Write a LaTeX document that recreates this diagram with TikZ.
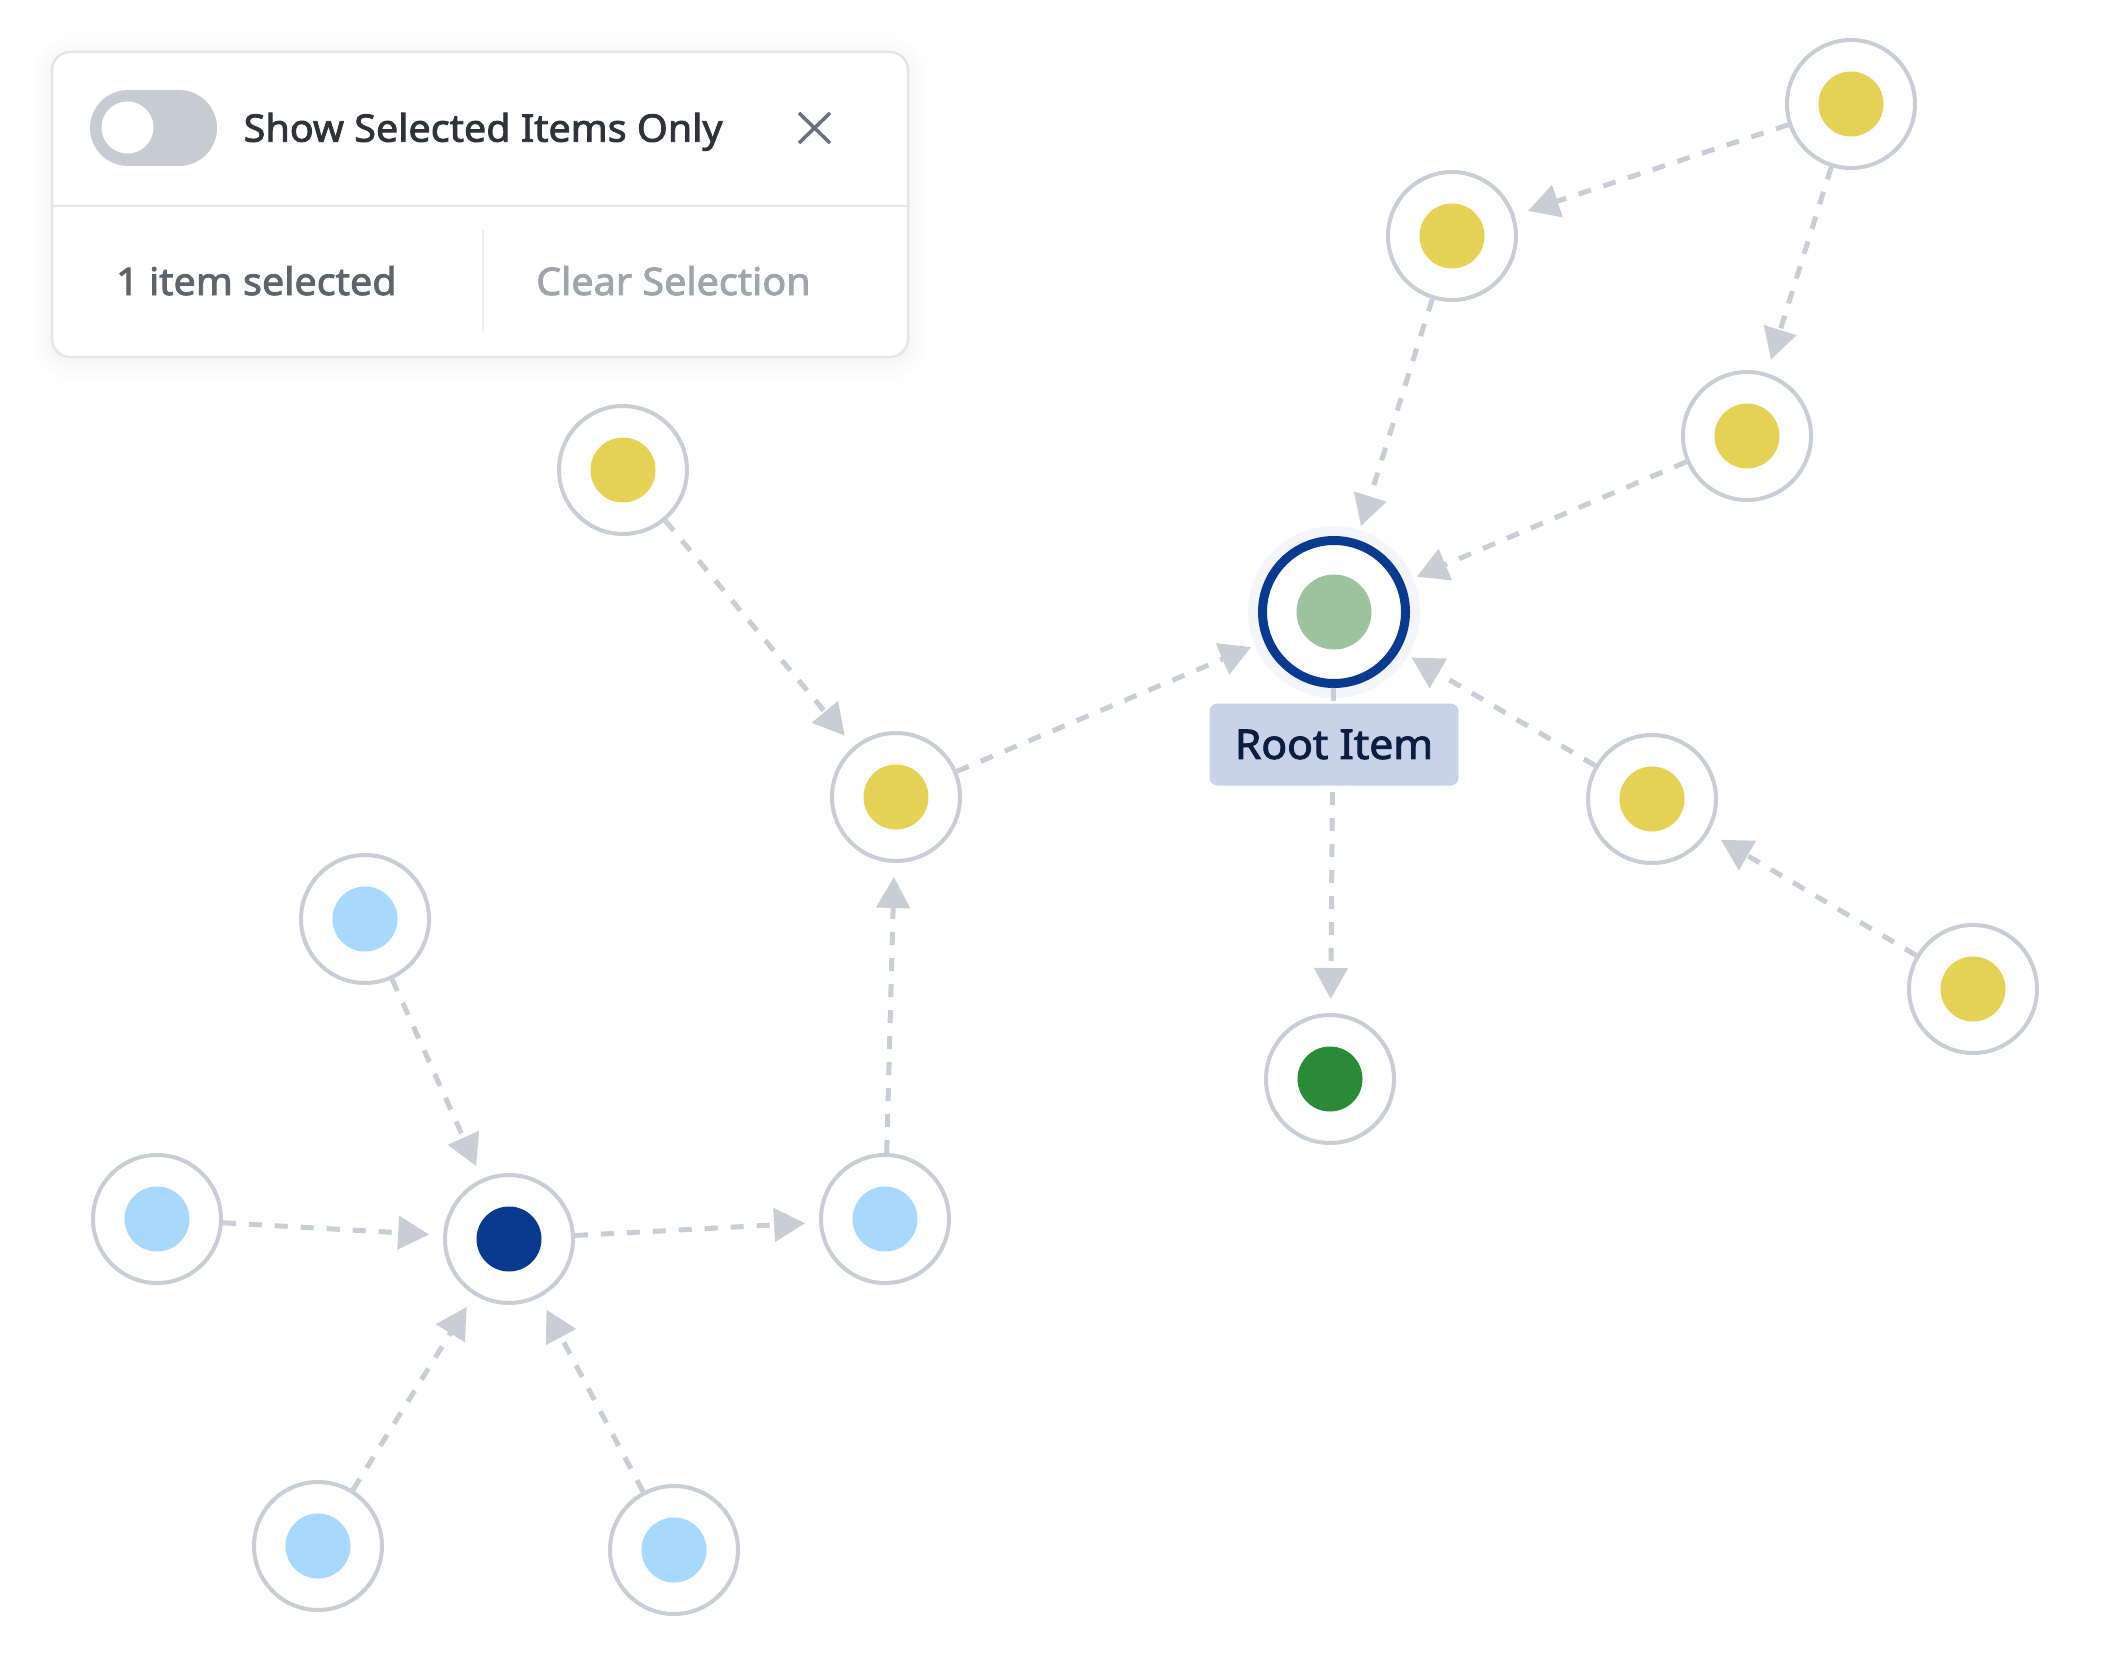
\documentclass[tikz,border=0pt]{standalone}
\usepackage{fontspec}
\setmainfont{Noto Sans}
\newfontfamily\medfont[FakeBold=2.2,FakeStretch=1.04]{Noto Sans}
\usetikzlibrary{arrows.meta,shadows.blur}
\definecolor{ring}{HTML}{C9CDD5}
\definecolor{edgec}{HTML}{C9CDD5}
\definecolor{yel}{HTML}{E4D155}
\definecolor{lblue}{HTML}{A9D8FD}
\definecolor{dblue}{HTML}{0A3A8F}
\definecolor{dgreen}{HTML}{2A8A38}
\definecolor{lgreen}{HTML}{9CC39D}
\definecolor{labelbg}{HTML}{C8D3EA}
\definecolor{labeltx}{HTML}{0B1D40}
\definecolor{panelb}{HTML}{E2E5EA}
\definecolor{tog}{HTML}{C7CBD3}
\definecolor{txdark}{HTML}{2F3238}
\definecolor{txmid}{HTML}{5E636C}
\definecolor{txlight}{HTML}{A0A4AB}
\definecolor{xcol}{HTML}{6B717C}
\definecolor{halo}{HTML}{F3F5FA}
\tikzset{
  item/.style={circle, draw=ring, line width=4pt, fill=white, minimum size=128pt, inner sep=0pt,
    path picture={\fill[#1] (path picture bounding box.center) circle (32.5pt);}},
  rootitem/.style={circle, draw=dblue, line width=9pt, fill=white, minimum size=143pt, inner sep=0pt,
    path picture={\fill[lgreen] (path picture bounding box.center) circle (37.5pt);}},
  link/.style={draw=edgec, line width=5pt, dash pattern=on 13pt off 13pt,
    -{Triangle[length=31pt,width=33pt]}, shorten >=14pt},
  paneltext/.style={anchor=base west, inner sep=0pt, font=\fontsize{38}{38}\selectfont},
}
\begin{document}
\begin{tikzpicture}[x=1pt,y=-1pt]
\useasboundingbox (0,0) rectangle (2128,1680);
% panel
\node[draw=panelb, line width=2.5pt, fill=white, rounded corners=18pt, minimum width=856pt, minimum height=305pt,
  blur shadow={shadow xshift=0pt, shadow yshift=-4pt, shadow blur radius=24pt, shadow opacity=6}] (panel) at (480,204.5) {};
\draw[panelb, line width=2.5pt] (52,206) -- (908,206);
\draw[panelb!60, line width=2pt] (483,230) -- (483,332);
\node[fill=tog, rounded corners=38pt, minimum width=127pt, minimum height=76pt, inner sep=0pt] (toggle) at (153.5,128) {};
\fill[white] (127.5,127.5) circle (26pt);
\node[paneltext, text=txdark] (title) at (243.5,141.7) {\medfont Show Selected Items Only};
\draw[xcol, line width=3.5pt] (799,113) -- (830,143) (799,143) -- (830,113);
\node[paneltext, text=txmid] (count) at (116,295) {\medfont 1 item selected};
\node[paneltext, text=txlight] (clear) at (536,295) {\medfont Clear Selection};
% nodes
\fill[halo] (1334,612) circle (86pt);
\node[rootitem] (root) at (1334,612) {};
\node[item=yel] (y1) at (1851,104) {};
\node[item=yel] (y2) at (1452,236) {};
\node[item=yel] (y3) at (1747,436) {};
\node[item=yel] (y4) at (623,470) {};
\node[item=yel] (y5) at (896,797) {};
\node[item=yel] (y6) at (1652,799) {};
\node[item=yel] (y7) at (1973,989) {};
\node[item=dgreen] (gn) at (1330,1079) {};
\node[item=lblue] (b1) at (365,919) {};
\node[item=lblue] (b2) at (157,1219) {};
\node[item=dblue] (dk) at (509,1239) {};
\node[item=lblue] (b3) at (885,1219) {};
\node[item=lblue] (b4) at (318,1546) {};
\node[item=lblue] (b5) at (674,1550) {};
% links
\draw[link] (y1) -- (y2);
\draw[link] (y1) -- (y3);
\draw[link] (y2) -- (root);
\draw[link] (y3) -- (root);
\draw[link] (y4) -- (y5);
\draw[link] (y5) -- (root);
\draw[link] (y6) -- (root);
\draw[link] (y7) -- (y6);
\draw[link] (root) -- (gn);
\draw[link] (b1) -- (dk);
\draw[link] (b2) -- (dk);
\draw[link] (dk) -- (b3);
\draw[link] (b3) -- (y5);
\draw[link] (b4) -- (dk);
\draw[link] (b5) -- (dk);
% label
\node[rounded corners=8pt, fill=labelbg, minimum width=249pt, minimum height=82pt, inner sep=0pt, text=labeltx,
  font=\medfont\fontsize{41}{41}\selectfont] (lbl) at (1334,744.5) {Root Item};
\end{tikzpicture}
\end{document}
